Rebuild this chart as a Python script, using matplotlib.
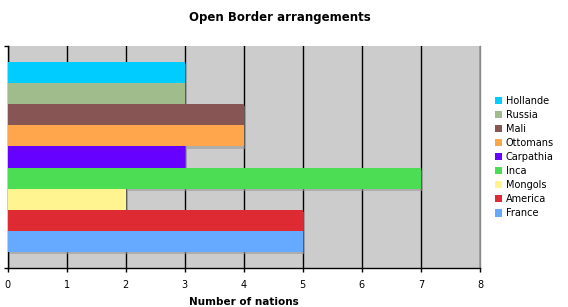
import matplotlib
matplotlib.use("Agg")
import matplotlib.pyplot as plt
import matplotlib.patheffects as pe
from matplotlib.patches import Patch

categories = ["Hollande", "Russia", "Mali", "Ottomans", "Carpathia", "Inca", "Mongols", "America", "France"]
values = [3, 3, 4, 4, 3, 7, 2, 5, 5]
colors = ["#00CCFF", "#A0BC8C", "#885555", "#FFA54C", "#6600FF", "#4DDD55", "#FFF48F", "#DD2A33", "#66AAFF"]
xticks = [0, 1, 2, 3, 4, 5, 6, 7, 8]

plt.rcParams['font.family'] = ['DejaVu Sans']

fig = plt.figure(figsize=(5.68, 3.07), dpi=100)
ax = fig.add_axes([7.5/568, 1-268/307, (480-7.5)/568, (268-46)/307])
ax.set_facecolor("#CCCCCC")

n = len(categories)
ypos = list(range(n - 1, -1, -1))
shadow = [pe.SimplePatchShadow(offset=(1.5, -1.5), shadow_rgbFace="#999999", alpha=0.6), pe.Normal()]
for y, v, c, lab in zip(ypos, values, colors, categories):
    ax.barh(y, v, height=1.0, color=c, zorder=3, label=lab, path_effects=shadow)

ax.set_xlim(0, 8)
ylo, yhi = -0.5 - 0.76, n - 0.5 + 0.76
ax.set_ylim(ylo, yhi)
ax.set_xticks(xticks)
ax.set_xticklabels([str(t) for t in xticks], fontsize=7)
ax.set_yticks([ylo, yhi])
ax.set_yticklabels([])
ax.tick_params(axis='both', direction='out', length=3, width=1, color='black', pad=6)
ax.grid(axis='x', color='black', linewidth=1, zorder=1)
ax.set_axisbelow(True)

for s in ['left', 'bottom']:
    ax.spines[s].set_color('black')
    ax.spines[s].set_linewidth(1)
ax.spines['top'].set_visible(False)
ax.spines['right'].set_color('#888888')
ax.spines['right'].set_linewidth(1)

ax.set_xlabel("Number of nations", fontsize=7.5, fontweight='bold', labelpad=5)
fig.text(280/568, 1-18/307, "Open Border arrangements", ha='center', va='center',
         fontsize=8.5, fontweight='bold')

handles = [Patch(facecolor=c, edgecolor='none') for c in colors]
fig.legend(handles, categories, loc='center left', bbox_to_anchor=(495/568, 1-157/307),
           frameon=False, fontsize=7, handlelength=0.75, handleheight=0.75,
           handletextpad=0.35, labelspacing=0.42, borderpad=0, borderaxespad=0)

fig.savefig("out.png", dpi=100)
